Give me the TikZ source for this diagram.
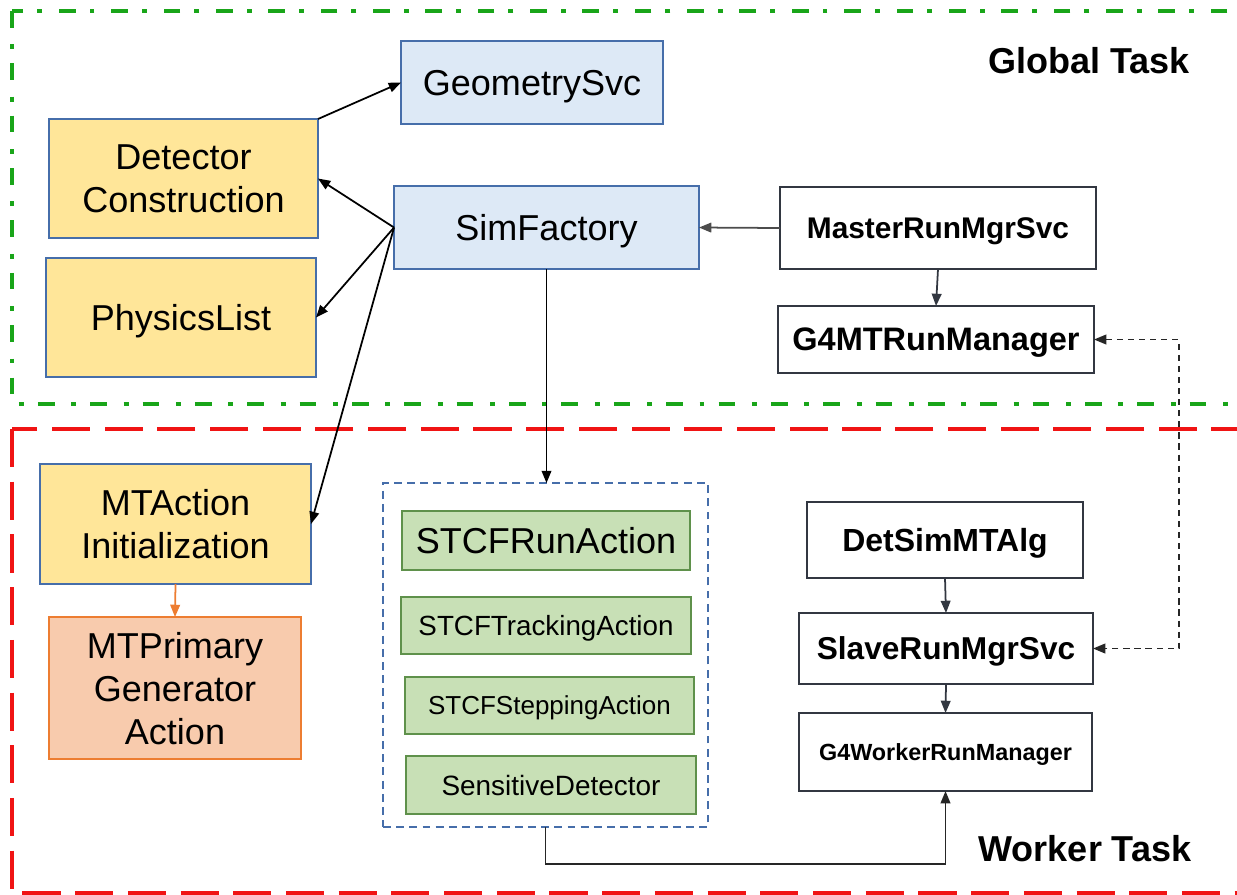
\documentclass[tikz,border=0pt]{standalone}
\usepackage{fontspec}
\setmainfont{Liberation Sans}
\definecolor{svcblue}{RGB}{221, 233, 246}
\definecolor{svcedge}{RGB}{70, 110, 170}
\definecolor{g4yellow}{RGB}{255, 230, 153}
\definecolor{userorange}{RGB}{248, 203, 173}
\definecolor{useredge}{RGB}{237, 125, 49}
\definecolor{actgreen}{RGB}{200, 224, 182}
\definecolor{actedge}{RGB}{95, 145, 75}
\definecolor{mgredge}{RGB}{50, 55, 65}
\definecolor{globalgreen}{RGB}{25, 165, 25}
\definecolor{workerred}{RGB}{240, 20, 20}
\usetikzlibrary{arrows.meta}

\begin{document}
\begin{tikzpicture}[x=0.02cm, y=-0.02cm,
    box/.style={draw, line width=0.95pt, inner sep=0pt, outer sep=0pt, align=center,
        text depth=0pt, font=\fontsize{20.5}{24.5}\selectfont},
    svcbox/.style={box, draw=svcedge, fill=svcblue},
    g4box/.style={box, draw=svcedge, fill=g4yellow},
    userbox/.style={box, draw=useredge, fill=userorange},
    actbox/.style={box, draw=actedge, fill=actgreen},
    mgrbox/.style={box, draw=mgredge, fill=white},
    link/.style={line width=1pt, -{Triangle[length=7pt, width=5.5pt]}},
    tasklabel/.style={font=\fontsize{20.5}{24}\selectfont\bfseries}
]
    \useasboundingbox (0,0) rectangle (1237,894);
    \clip (0,0) rectangle (1237,894);

    % Task frames
    \draw[globalgreen, line width=2.3pt, dash pattern=on 9.5pt off 9.5pt on 2.8pt off 8pt]
        (12,11) rectangle (1300,404);
    \draw[workerred, line width=2.3pt, dash pattern=on 21.7pt off 8.3pt]
        (12,429) rectangle (1300,893);
    \node[tasklabel] (globaltask) at (1089,61) {Global Task};
    \node[tasklabel] (workertask) at (1085,849) {Worker Task};

    % Global task
    \node[svcbox, minimum width=5.24cm, minimum height=1.66cm] (geo) at (532,82.5) {GeometrySvc};
    \node[svcbox, minimum width=6.10cm, minimum height=1.66cm] (sim) at (546.5,227.5) {SimFactory};
    \node[g4box, minimum width=5.38cm, minimum height=2.38cm] (detcon) at (183.5,178.5) {Detector\\Construction};
    \node[g4box, minimum width=5.40cm, minimum height=2.38cm] (phys) at (181,317.5) {PhysicsList};
    \node[mgrbox, minimum width=6.32cm, minimum height=1.64cm,
        font=\fontsize{17}{20}\selectfont\bfseries] (master) at (938,228) {MasterRunMgrSvc};
    \node[mgrbox, minimum width=6.32cm, minimum height=1.34cm,
        font=\fontsize{18.5}{22}\selectfont\bfseries] (g4mt) at (936,339.5) {G4MTRunManager};

    % Worker task
    \node[g4box, minimum width=5.42cm, minimum height=2.40cm] (mtinit) at (175.5,524) {MTAction\\Initialization};
    \node[userbox, minimum width=5.04cm, minimum height=2.84cm] (mtprim) at (175,688) {MTPrimary\\Generator\\Action};
    \node[draw=svcedge, line width=0.9pt, dash pattern=on 4.5pt off 3pt, inner sep=0pt, outer sep=0pt,
        minimum width=6.50cm, minimum height=6.88cm] (actions) at (545.5,655) {};
    \node[actbox, minimum width=5.76cm, minimum height=1.18cm] (runact) at (546,540.5) {STCFRunAction};
    \node[actbox, minimum width=5.80cm, minimum height=1.14cm,
        font=\fontsize{15.8}{19}\selectfont] (trackact) at (546,625.5) {STCFTrackingAction};
    \node[actbox, minimum width=5.78cm, minimum height=1.14cm,
        font=\fontsize{14.8}{18}\selectfont] (stepact) at (549.5,705.5) {STCFSteppingAction};
    \node[actbox, minimum width=5.80cm, minimum height=1.16cm,
        font=\fontsize{15.9}{19}\selectfont] (sensdet) at (551,785) {SensitiveDetector};
    \node[mgrbox, minimum width=5.52cm, minimum height=1.52cm,
        font=\fontsize{18.2}{22}\selectfont\bfseries] (detsim) at (945,540) {DetSimMTAlg};
    \node[mgrbox, minimum width=5.88cm, minimum height=1.42cm,
        font=\fontsize{18}{22}\selectfont\bfseries] (slave) at (946,648.5) {SlaveRunMgrSvc};
    \node[mgrbox, minimum width=5.86cm, minimum height=1.56cm,
        font=\fontsize{13.3}{16}\selectfont\bfseries] (worker) at (945.5,752) {G4WorkerRunManager};

    % Connectors
    \draw[link] (detcon.north east) -- (geo.west);
    \draw[link] (sim.west) -- (detcon.east);
    \draw[link] (sim.west) -- (phys.east);
    \draw[link] (sim.west) -- (mtinit.east);
    \draw[link, black!70] (master.west) -- (sim.east);
    \draw[link, mgredge] (master.south) -- (g4mt.north);
    \draw[link] (sim.south) -- (sim.south |- actions.north);
    \draw[link, useredge] (mtinit.south) -- (mtprim.north);
    \draw[link, mgredge] (detsim.south) -- (slave.north);
    \draw[link, mgredge] (slave.south) -- (worker.north);
    \coordinate (turn) at (545.5,864);
    \draw[link, black!85] (actions.south) -- (turn) -| (worker.south);
    \coordinate (sync) at (1179,339.5);
    \draw[link, black!85, {Triangle[length=7pt, width=5.5pt]}-{Triangle[length=7pt, width=5.5pt]},
        dash pattern=on 3.5pt off 2.8pt] (g4mt.east) -- (sync) |- (slave.east);
\end{tikzpicture}
\end{document}
